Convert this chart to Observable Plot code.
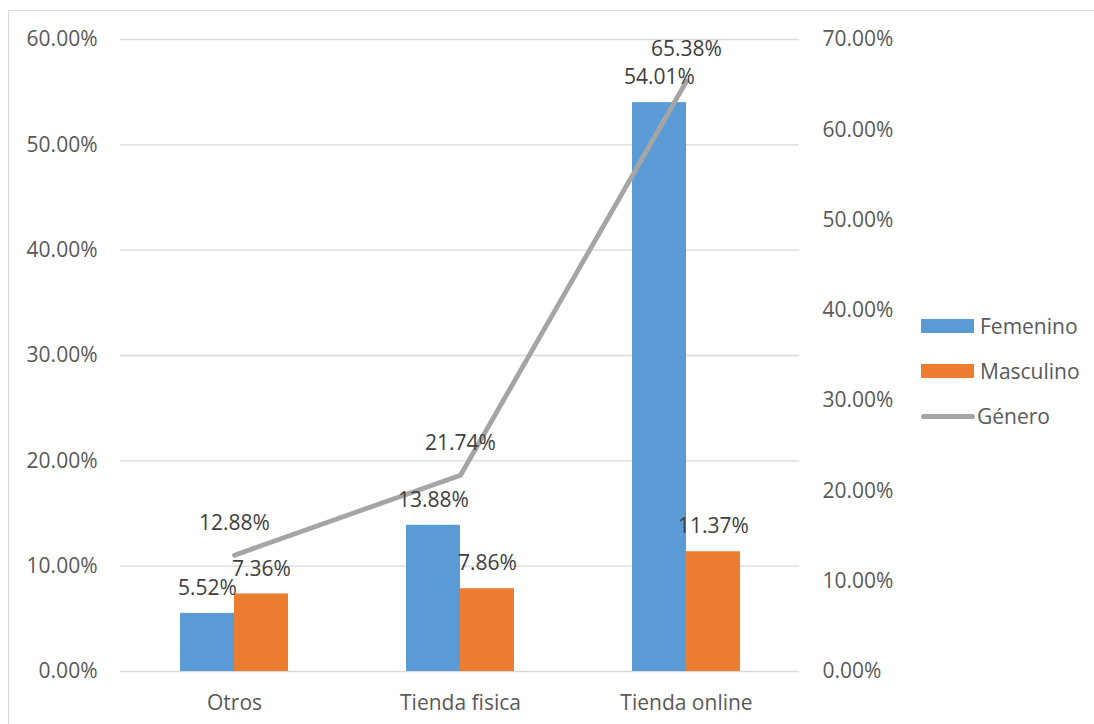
<!DOCTYPE html>
<html>
<head>
<meta charset="utf-8">
<script src="https://cdn.jsdelivr.net/npm/d3@7"></script>
<script src="https://cdn.jsdelivr.net/npm/@observablehq/plot@0.6"></script>
<style>
  html, body { margin: 0; padding: 0; background: #fff; }
  #wrap { position: relative; width: 1094px; height: 724px; overflow: hidden; font-family: "Open Sans", sans-serif; }
  #frame { position: absolute; left: 8px; top: 10px; width: 1100px; height: 730px; border-left: 1.5px solid #d9d9d9; border-top: 1.5px solid #d9d9d9; }
  #chart { position: absolute; left: 0; top: 0; }
  .leg { position: absolute; left: 921px; font-size: 21px; color: #595959; display: flex; align-items: center; height: 24px; }
  .sw { width: 53px; height: 14px; margin-right: 6px; }
  .ln { width: 54px; height: 5px; border-radius: 3px; background: #A5A5A5; margin-right: 2px; }
</style>
</head>
<body>
<div id="wrap">
  <div id="frame"></div>
  <div id="chart"></div>
  <div class="leg" style="top:314px"><div class="sw" style="background:#5B9BD5"></div>Femenino</div>
  <div class="leg" style="top:359px"><div class="sw" style="background:#ED7D31"></div>Masculino</div>
  <div class="leg" style="top:404px"><div class="ln"></div>Género</div>
</div>
<script>
const categories = ["Otros", "Tienda fisica", "Tienda online"];
const femenino = [5.52, 13.88, 54.01];
const masculino = [7.36, 7.86, 11.37];
const genero = [12.88, 21.74, 65.38];
const leftTicks = [0, 10, 20, 30, 40, 50, 60];
const rightTicks = [0, 10, 20, 30, 40, 50, 60, 70];
const leftMax = 60, rightMax = 70;
const toLeft = v => v * leftMax / rightMax;

const fem = categories.map((c, i) => ({cat: c, v: femenino[i]}));
const mas = categories.map((c, i) => ({cat: c, v: masculino[i]}));
const gen = categories.map((c, i) => ({cat: c, v: genero[i]}));
const pct = v => v.toFixed(2) + "%";

const chart = Plot.plot({
  width: 1094,
  height: 724,
  marginLeft: 120,
  marginRight: 295,
  marginTop: 39,
  marginBottom: 53,
  style: {fontFamily: "'Open Sans', sans-serif", fontSize: "21px", background: "transparent", overflow: "visible"},
  x: {domain: categories, paddingInner: 0.5228, paddingOuter: 0.2614, align: 0.5, label: null},
  y: {domain: [0, leftMax], label: null},
  marks: [
    Plot.gridY(leftTicks, {stroke: "#d9d9d9", strokeOpacity: 1, strokeWidth: 1.3}),
    Plot.barY(fem, {x: "cat", y: "v", fill: "#5B9BD5", insetRight: 54}),
    Plot.barY(mas, {x: "cat", y: "v", fill: "#ED7D31", insetLeft: 54}),
    Plot.line(gen, {x: "cat", y: d => toLeft(d.v), stroke: "#A5A5A5", strokeWidth: 4.8, strokeLinecap: "round", strokeLinejoin: "round"}),
    Plot.text(fem, {x: "cat", y: "v", text: d => pct(d.v), dx: -27, dy: -25, fill: "#404040"}),
    Plot.text(mas, {x: "cat", y: "v", text: d => pct(d.v), dx: 27, dy: -25, fill: "#404040"}),
    Plot.text(gen, {x: "cat", y: d => toLeft(d.v), text: d => pct(d.v), dy: -32, fill: "#404040"}),
    Plot.axisY(leftTicks, {anchor: "left", tickSize: 0, tickPadding: 23, tickFormat: pct, fill: "#595959", label: null}),
    Plot.axisY(rightTicks.map(toLeft), {anchor: "right", tickSize: 0, tickPadding: 23, tickFormat: d => pct(d * rightMax / leftMax), fill: "#595959", label: null}),
    Plot.axisX({tickSize: 0, tickPadding: 24, fill: "#595959", label: null})
  ]
});
document.getElementById("chart").appendChild(chart);
</script>
</body>
</html>
